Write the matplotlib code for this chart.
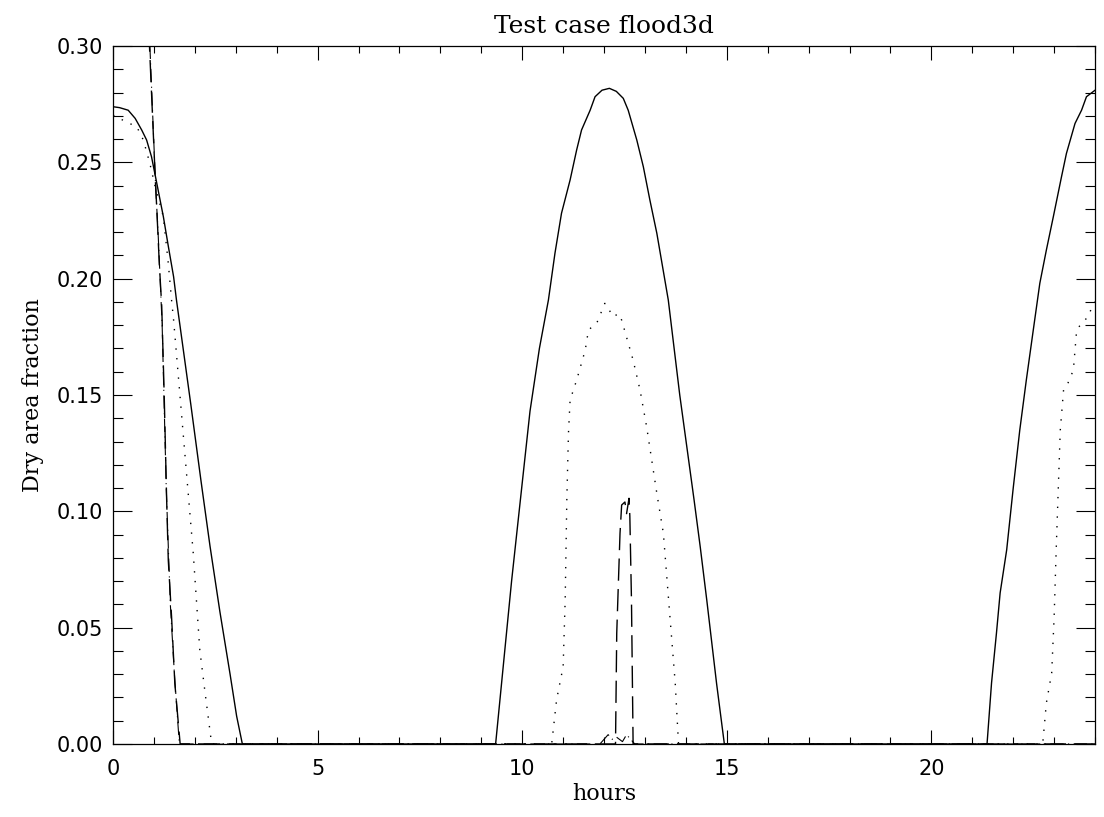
import numpy as np
import matplotlib
matplotlib.use("Agg")
import matplotlib.pyplot as plt
from matplotlib.ticker import MultipleLocator, FormatStrFormatter

# solid curve
hours_a = [0, 0.16, 0.37, 0.54, 0.70, 0.82, 0.94, 1.07, 1.23, 1.35, 1.48, 1.55, 1.64, 1.9, 2.15,
           2.37, 2.61, 2.86, 3.02, 3.16, 9.35, 9.74, 10.19, 10.42, 10.64, 10.80, 10.96, 11.17, 11.33,
           11.45, 11.66, 11.78, 11.95, 12.13, 12.30, 12.47, 12.59, 12.80, 12.96, 13.12, 13.29,
           13.57, 13.85, 14.20, 14.35, 14.51, 14.75, 14.94, 21.36, 21.47, 21.59, 21.68, 21.84,
           22.0, 22.16, 22.32, 22.49, 22.65, 22.81, 22.98, 23.18, 23.30, 23.51, 23.67, 23.79, 24.0]
dry_a = [0.2739, 0.2735, 0.2724, 0.2689, 0.2639, 0.2596, 0.2524, 0.2409, 0.2266, 0.214, 0.2008,
         0.1908, 0.1793, 0.146, 0.113, 0.085, 0.057, 0.030, 0.012, 0.0, 0.0, 0.070, 0.143,
         0.170, 0.1908, 0.2109, 0.2281, 0.2424, 0.2553, 0.2639, 0.2724, 0.2782, 0.2810, 0.2818,
         0.2805, 0.2775, 0.2724, 0.2596, 0.2481, 0.2338, 0.2195, 0.1908, 0.150, 0.1049, 0.0848,
         0.0619, 0.026, 0.0, 0.0, 0.0262, 0.0476, 0.0649, 0.0834, 0.110, 0.1349, 0.1564, 0.1779,
         0.198, 0.2123, 0.2266, 0.2438, 0.2538, 0.2667, 0.2724, 0.2782, 0.281]

# dotted curve
hours_b = [0, 0.33, 0.58, 0.74, 0.90, 1.03, 1.23, 1.35, 1.43, 1.48, 1.96, 2.12, 2.25, 2.41,
           10.72, 10.84, 11.0, 11.05, 11.09, 11.13, 11.17, 11.33, 11.54, 11.62, 11.82, 12.02,
           12.23, 12.35, 12.43, 12.71, 12.88, 13.04, 13.29, 13.45, 13.61, 13.74, 13.82,
           22.72, 22.81, 22.94, 23.0, 23.05, 23.15, 23.23, 23.30, 23.47, 23.55, 23.67, 23.83, 23.96, 24.0]
dry_b = [0.2703, 0.2673, 0.2653, 0.2596, 0.2495, 0.2395, 0.2266, 0.2066, 0.1908, 0.1822, 0.082,
         0.0404, 0.0219, 0.0, 0.0, 0.019, 0.0332, 0.0619, 0.1049, 0.1335, 0.1478, 0.1564, 0.1693,
         0.178, 0.1808, 0.1894, 0.1836, 0.185, 0.1822, 0.165, 0.1521, 0.1364, 0.1077, 0.0905,
         0.0547, 0.026, 0.0, 0.0, 0.0176, 0.0305, 0.0547, 0.0834, 0.1349, 0.1521, 0.1535, 0.1607,
         0.1779, 0.1808, 0.1836, 0.1894, 0.19]

# dashed curve
hours_c = [0, 0.5, 0.89, 1.03, 1.07, 1.13, 1.19, 1.25, 1.31, 1.35, 1.43, 1.51, 1.64,
           12.28, 12.31, 12.39, 12.43, 12.51, 12.55, 12.61, 12.63, 12.67, 12.71, 24.0]
dry_c = [0.62, 0.45, 0.30, 0.2438, 0.2295, 0.2066, 0.188, 0.15, 0.105, 0.079, 0.0547, 0.026, 0.0,
         0.0, 0.0476, 0.0905, 0.1027, 0.104, 0.099, 0.1056, 0.098, 0.0619, 0.0, 0.0]

# dash-dot curve
hours_d = [0, 0.5, 0.9, 1.04, 1.1, 1.2, 1.3, 1.4, 1.5, 1.62, 11.9, 12.0, 12.1, 12.2, 12.3,
           12.45, 12.55, 12.65, 12.75, 24.0]
dry_d = [0.63, 0.46, 0.30, 0.24, 0.22, 0.18, 0.11, 0.06, 0.03, 0.0, 0.0, 0.002, 0.004, 0.002,
         0.003, 0.001, 0.004, 0.002, 0.0, 0.0]

fig = plt.figure(figsize=(11.04, 8.17), dpi=100)
ax = fig.add_axes([0.1024, 0.0894, 0.8895, 0.8543])

lw = 1.0
ax.plot(hours_a, dry_a, color="black", lw=lw, linestyle="-")
ax.plot(hours_b, dry_b, color="black", lw=lw, linestyle=(0, (1, 6)))
ax.plot(hours_c, dry_c, color="black", lw=lw, linestyle=(0, (16, 6)))
ax.plot(hours_d, dry_d, color="black", lw=0.8, linestyle=(0, (12, 4, 1, 4)))

ax.set_xlim(0, 24)
ax.set_ylim(0, 0.30)

ax.xaxis.set_major_locator(MultipleLocator(5))
ax.xaxis.set_minor_locator(MultipleLocator(1))
ax.yaxis.set_major_locator(MultipleLocator(0.05))
ax.yaxis.set_minor_locator(MultipleLocator(0.01))
ax.yaxis.set_major_formatter(FormatStrFormatter("%.2f"))

ax.tick_params(axis="x", which="major", direction="in", length=10, width=0.8,
               top=True, bottom=True, pad=11, labelsize=15)
ax.tick_params(axis="x", which="minor", direction="in", length=5, width=0.8, top=True, bottom=True)
ax.tick_params(axis="y", which="major", direction="in", length=14, width=0.8,
               left=True, right=True, pad=7, labelsize=15)
ax.tick_params(axis="y", which="minor", direction="in", length=7, width=0.8, left=True, right=True)
for s in ax.spines.values():
    s.set_linewidth(0.9)

ax.set_title("Test case flood3d", fontsize=18, family="DejaVu Serif", pad=9)
ax.set_xlabel("hours", fontsize=16, family="DejaVu Serif", labelpad=3)
ax.set_ylabel("Dry area fraction", fontsize=16, family="DejaVu Serif", labelpad=9)

fig.savefig("out.png", dpi=100)
